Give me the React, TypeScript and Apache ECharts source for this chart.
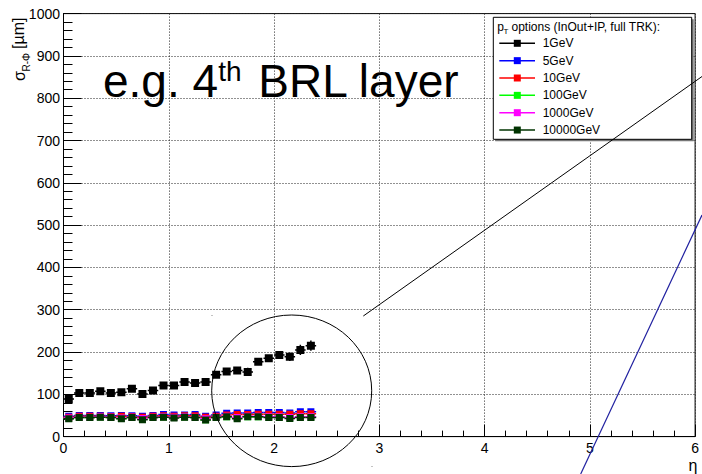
import React, { useEffect, useRef } from "react";
import * as echarts from "echarts";

const eta = [0.05, 0.15, 0.25, 0.35, 0.45, 0.55, 0.65, 0.75, 0.85, 0.95, 1.05, 1.15, 1.25, 1.35, 1.45, 1.55, 1.65, 1.75, 1.85, 1.95, 2.05, 2.15, 2.25, 2.35];
const v1GeV = [89, 103, 103, 107, 103, 105, 113, 101, 109, 121, 121, 129, 127, 129, 146, 154, 156, 153, 177, 185, 193, 189, 205, 215];
const e1GeV = [10, 5, 5, 5, 5, 5, 7, 6, 5, 5, 5, 5, 5, 9, 7, 6, 6, 10, 6, 6, 6, 10, 12, 12];
const v5GeV = [48, 50, 50, 50, 49, 50, 49, 48, 50, 52, 51, 51, 52, 48, 51, 55, 56, 56, 57, 57, 57, 56, 59, 59];
const v10GeV = [46, 48, 48, 48, 47, 48, 47, 46, 48, 49, 48, 49, 49, 46, 48, 51, 52, 52, 53, 53, 53, 53, 54, 54];
const v100GeV = [43, 45, 45, 46, 45, 43, 45, 41, 45, 46, 45, 46, 45, 40, 45, 47, 44, 47, 47, 46, 46, 44, 46, 46];
const v1000GeV = [44, 46, 46, 47, 46, 44, 46, 43, 46, 47, 46, 47, 46, 42, 46, 48, 45, 48, 48, 47, 47, 45, 47, 47];
const v10000GeV = [42, 45, 45, 46, 45, 42, 45, 40, 45, 46, 44, 46, 45, 39, 45, 47, 42, 47, 47, 45, 45, 43, 45, 45];
const eSmall = 2;

const seriesNames = ["1GeV", "5GeV", "10GeV", "100GeV", "1000GeV", "10000GeV"];
const seriesColors = ["#000000", "#0000ff", "#ff0000", "#00ff00", "#ff00ff", "#003300"];
const seriesValues = [v1GeV, v5GeV, v10GeV, v100GeV, v1000GeV, v10000GeV];

const xTicks = [0, 1, 2, 3, 4, 5, 6];
const yTicks = [0, 100, 200, 300, 400, 500, 600, 700, 800, 900, 1000];

const FONT = "Liberation Sans, Arial, Helvetica, sans-serif";

export default function App() {
  const ref = useRef<HTMLDivElement>(null);
  useEffect(() => {
    if (!ref.current) return;
    const chart = echarts.init(ref.current, null, { renderer: "svg" });

    const series = seriesNames.map((name, si) => {
      const color = seriesColors[si];
      const vals = seriesValues[si];
      const size = si === 0 ? 8 : 7;
      const data = eta.map((x, i) => [x, vals[i], si === 0 ? e1GeV[i] : eSmall]);
      return {
        type: "custom",
        name,
        z: 10 + si,
        clip: true,
        encode: { x: 0, y: 1 },
        data,
        renderItem: (params: any, api: any) => {
          const x = api.value(0);
          const y = api.value(1);
          const e = api.value(2);
          const c = api.coord([x, y]);
          const l = api.coord([x - 0.05, y]);
          const r = api.coord([x + 0.05, y]);
          const t = api.coord([x, y + e]);
          const b = api.coord([x, y - e]);
          return {
            type: "group",
            children: [
              { type: "line", shape: { x1: l[0], y1: l[1], x2: r[0], y2: r[1] }, style: { stroke: color, lineWidth: 1.5 } },
              { type: "line", shape: { x1: t[0], y1: t[1], x2: b[0], y2: b[1] }, style: { stroke: color, lineWidth: 1.5 } },
              { type: "rect", shape: { x: c[0] - size / 2, y: c[1] - size / 2, width: size, height: size }, style: { fill: color } },
            ],
          };
        },
      };
    });

    const legendX = 493.3;
    const legendY = 17.3;
    const legendW = 198.4;
    const legendH = 122;
    const rowY0 = 43.3;
    const rowDy = 17.35;

    const legendEls: any[] = [
      { type: "rect", z: 50, shape: { x: legendX + 2, y: legendY + 2, width: legendW, height: legendH }, style: { fill: "#777" } },
      { type: "rect", z: 51, shape: { x: legendX, y: legendY, width: legendW, height: legendH }, style: { fill: "#fff", stroke: "#000", lineWidth: 1 } },
      { type: "text", z: 52, x: 497.3, y: 26.7, style: { text: "p", fill: "#000", fontSize: 12, fontFamily: FONT, align: "left", verticalAlign: "middle" } },
      { type: "text", z: 52, x: 503.5, y: 31.5, style: { text: "T", fill: "#000", fontSize: 8, fontFamily: FONT, align: "left", verticalAlign: "middle" } },
      { type: "text", z: 52, x: 511.5, y: 26.7, style: { text: "options (InOut+IP, full TRK):", fill: "#000", fontSize: 12, fontFamily: FONT, align: "left", verticalAlign: "middle" } },
    ];
    seriesNames.forEach((name, i) => {
      const y = rowY0 + i * rowDy;
      legendEls.push(
        { type: "line", z: 52, shape: { x1: 499.3, y1: y, x2: 535, y2: y }, style: { stroke: seriesColors[i], lineWidth: 1.5 } },
        { type: "rect", z: 53, shape: { x: 517.3 - 3.5, y: y - 3.5, width: 7, height: 7 }, style: { fill: seriesColors[i] } },
        { type: "text", z: 53, x: 542.7, y, style: { text: name, fill: "#000", fontSize: 12, fontFamily: FONT, align: "left", verticalAlign: "middle" } }
      );
    });

    const annot: any[] = [
      { type: "ellipse", z: 60, shape: { cx: 291.7, cy: 390.8, rx: 80, ry: 75.8 }, style: { fill: "none", stroke: "#000", lineWidth: 1 } },
      { type: "line", z: 60, shape: { x1: 363.3, y1: 316, x2: 702, y2: 76.5 }, style: { stroke: "#000", lineWidth: 1 } },
      { type: "line", z: 60, shape: { x1: 580.7, y1: 474, x2: 702, y2: 215 }, style: { stroke: "#2020a0", lineWidth: 1.2 } },
      { type: "rect", z: 60, shape: { x: 211.5, y: 315, width: 1, height: 1 }, style: { fill: "#888" } },
      { type: "rect", z: 60, shape: { x: 371.5, y: 466, width: 1, height: 1 }, style: { fill: "#888" } },
    ];

    const texts: any[] = [
      { type: "text", z: 40, x: 103, y: 80.7, style: { text: "e.g. 4", fill: "#000", fontSize: 46, fontFamily: FONT, align: "left", verticalAlign: "middle" } },
      { type: "text", z: 40, x: 218.3, y: 71, style: { text: "th", fill: "#000", fontSize: 28, fontFamily: FONT, align: "left", verticalAlign: "middle" } },
      { type: "text", z: 40, x: 258.3, y: 80.7, style: { text: "BRL layer", fill: "#000", fontSize: 46, fontFamily: FONT, align: "left", verticalAlign: "middle" } },
      { type: "text", z: 40, x: 19, y: 81, rotation: Math.PI / 2, style: { text: "σ", fill: "#000", fontSize: 16, fontFamily: FONT, align: "left", verticalAlign: "middle" } },
      { type: "text", z: 40, x: 26, y: 71.5, rotation: Math.PI / 2, style: { text: "R-Φ", fill: "#000", fontSize: 10, fontFamily: FONT, align: "left", verticalAlign: "middle" } },
      { type: "text", z: 40, x: 18, y: 49, rotation: Math.PI / 2, style: { text: "[µm]", fill: "#000", fontSize: 16, fontFamily: FONT, align: "left", verticalAlign: "middle" } },
      { type: "text", z: 40, x: 693, y: 465, style: { text: "η", fill: "#000", fontSize: 16, fontFamily: FONT, align: "center", verticalAlign: "middle" } },
    ];

    const splitLine = { show: true, lineStyle: { color: "#222", width: 1, type: [1, 2] } };

    chart.setOption({
      animation: false,
      backgroundColor: "#fff",
      grid: { left: 63.5, right: 2.7, top: 13.6, bottom: 37.4, show: true, borderColor: "#000", borderWidth: 1, backgroundColor: "transparent" },
      xAxis: {
        type: "value",
        min: xTicks[0],
        max: xTicks[xTicks.length - 1],
        interval: 1,
        axisLine: { show: true, onZero: false, lineStyle: { color: "#000", width: 1 } },
        axisTick: { show: true, inside: true, length: 12, lineStyle: { color: "#000" } },
        minorTick: { show: true, splitNumber: 5, length: 6, lineStyle: { color: "#000" } },
        splitLine,
        axisLabel: { color: "#000", fontSize: 14, fontFamily: FONT, margin: 4, formatter: (v: number) => String(v) },
      },
      yAxis: {
        type: "value",
        min: yTicks[0],
        max: yTicks[yTicks.length - 1],
        interval: 100,
        axisLine: { show: true, onZero: false, lineStyle: { color: "#000", width: 1 } },
        axisTick: { show: true, inside: true, length: 18, lineStyle: { color: "#000" } },
        minorTick: { show: true, splitNumber: 5, length: 9, lineStyle: { color: "#000" } },
        splitLine,
        axisLabel: { color: "#000", fontSize: 14, fontFamily: FONT, margin: 3.5, formatter: (v: number) => String(v) },
      },
      series,
      graphic: { elements: [...texts, ...legendEls, ...annot] },
    });
    return () => chart.dispose();
  }, []);
  return <div ref={ref} style={{ position: "fixed", left: 0, top: 0, width: 702, height: 474, background: "#fff" }} />;
}
